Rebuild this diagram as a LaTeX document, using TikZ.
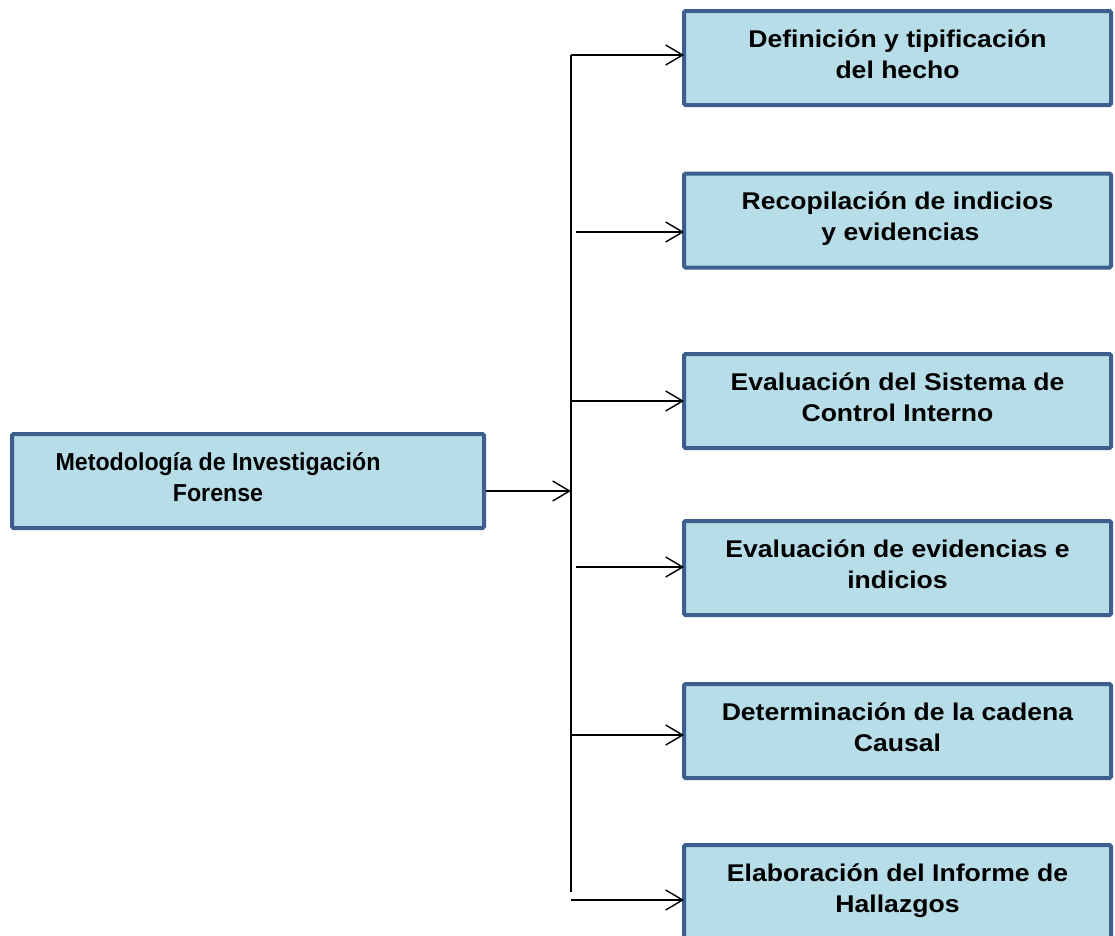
\documentclass[tikz,border=0pt]{standalone}
\usepackage{fontspec}
\setmainfont{Liberation Sans}
\newfontfamily\narrowfam{Liberation Sans}[FakeStretch=0.947]
\newfontfamily\widefam{Liberation Sans}[FakeStretch=1.098]
\usetikzlibrary{arrows.meta}
\definecolor{boxfill}{HTML}{B7DDE8}
\definecolor{boxdraw}{HTML}{3C5F8E}
\newcommand{\boxtext}[2][c]{\begin{tabular}[t]{#1}#2\end{tabular}}
\begin{document}
\begin{tikzpicture}[x=1pt,y=-1pt,
  box/.style={draw=boxdraw, line width=4pt, fill=boxfill, rounded corners=1.5pt,
    minimum height=94pt, inner sep=0pt, text height=20pt, text depth=42pt},
  mainbox/.style={box, minimum width=472pt,
    font=\narrowfam\fontsize{24.5}{31}\selectfont\bfseries},
  stepbox/.style={box, minimum width=427pt,
    font=\widefam\fontsize{24.2}{31}\selectfont\bfseries},
  conn/.style={line width=1.4pt, black},
  arr/.style={conn, -{Straight Barb[length=17pt, width=20pt, line width=1.4pt]}}]
\useasboundingbox (0,0) rectangle (1115,935);

\node[mainbox] (m) at (248,481) {\boxtext[c@{\hspace{66pt}}]{Metodología de Investigación\\Forense}};
\node[stepbox] (b1) at (897.5,58) {\boxtext{Definición y tipificación\\del hecho}};
\node[stepbox] (b2) at (897.5,220.5) {\boxtext{Recopilación de indicios\\\hspace*{6pt}y evidencias}};
\node[stepbox] (b3) at (897.5,401) {\boxtext{Evaluación del Sistema de\\Control Interno}};
\node[stepbox] (b4) at (897.5,568) {\boxtext{Evaluación de evidencias e\\indicios}};
\node[stepbox] (b5) at (897.5,731) {\boxtext{Determinación de la cadena\\Causal}};
\node[stepbox] (b6) at (897.5,892) {\boxtext{Elaboración del Informe de\\Hallazgos}};

\coordinate (top) at (571,55);
\coordinate (bot) at (571,892);
\coordinate (hub) at (571,491);
\coordinate (s1) at (571,55);
\coordinate (s2) at (576,232);
\coordinate (s3) at (571,401);
\coordinate (s4) at (576,567);
\coordinate (s5) at (571,735);
\coordinate (s6) at (571,900);

\draw[conn] (top) -- (bot);
\draw[arr] (m.east |- hub) -- (hub);
\foreach \i in {1,...,6}{
  \draw[arr, shorten >=-2pt] (s\i) -- (s\i -| b\i.west);
}
\end{tikzpicture}
\end{document}
